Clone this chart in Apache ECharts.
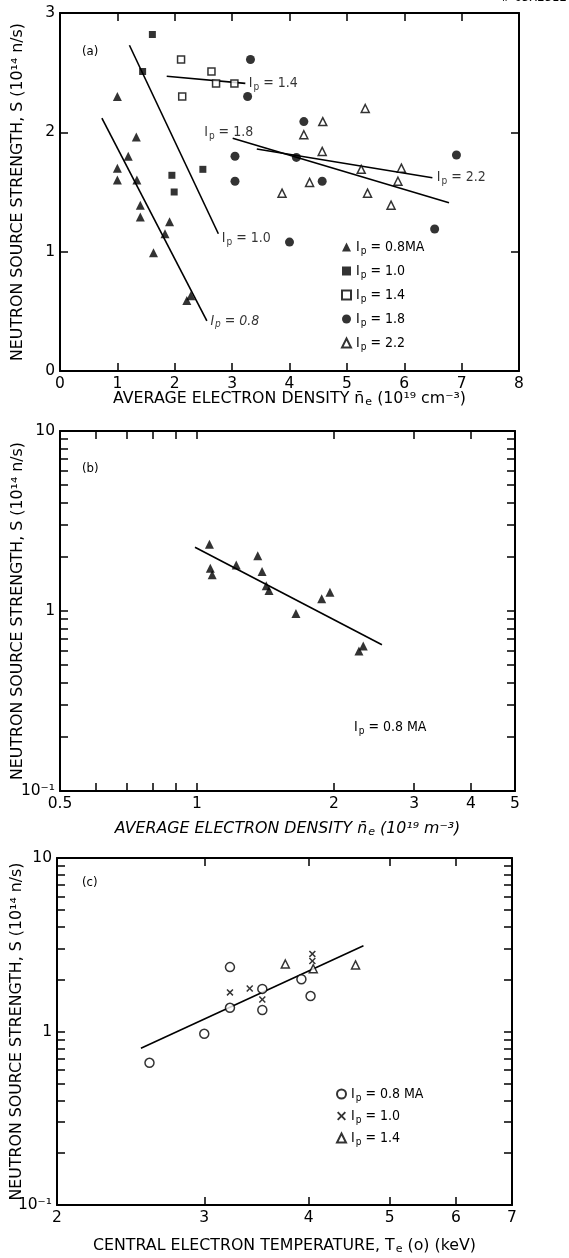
<!DOCTYPE html>
<html>
<head>
<meta charset="utf-8">
<script src="https://cdn.jsdelivr.net/npm/echarts@6/dist/echarts.min.js"></script>
<style>
  html, body { margin: 0; padding: 0; background: #fff; }
  #chart { width: 569px; height: 1258px; }
</style>
</head>
<body>
<div id="chart"></div>
<script>
// ---- (a) source strength vs. line-average density, by plasma current ----
const ip08_a = [[1.0, 2.3], [1.33, 1.96], [1.19, 1.8], [1.0, 1.7], [1.0, 1.6], [1.34, 1.6],
                [1.4, 1.39], [1.4, 1.29], [1.91, 1.25], [1.83, 1.15], [1.63, 0.99], [2.28, 0.63], [2.21, 0.59]];
const ip10_a = [[1.61, 2.82], [1.44, 2.51], [1.95, 1.64], [2.49, 1.69], [1.99, 1.5]];
const ip14_a = [[2.11, 2.61], [2.64, 2.51], [2.72, 2.41], [3.04, 2.41], [2.13, 2.3]];
const ip18_a = [[3.32, 2.61], [3.27, 2.3], [4.25, 2.09], [3.05, 1.8], [4.12, 1.79], [3.05, 1.59],
                [4.57, 1.59], [6.91, 1.81], [4.0, 1.08], [6.53, 1.19]];
const ip22_a = [[5.32, 2.2], [4.58, 2.09], [4.25, 1.98], [4.57, 1.84], [5.25, 1.69], [5.95, 1.7],
                [5.89, 1.59], [4.35, 1.58], [3.87, 1.49], [5.36, 1.49], [5.77, 1.39]];
const fit08_a = [[0.73, 2.12], [2.56, 0.42]];
const fit10_a = [[1.21, 2.73], [2.76, 1.15]];
const fit14_a = [[1.86, 2.47], [3.23, 2.41]];
const fit18_a = [[6.78, 1.41], [3.01, 1.95]];
const fit22_a = [[3.43, 1.86], [6.49, 1.62]];

// ---- (b) Ip = 0.8 MA on log-log axes ----
const ip08_b = [[1.065, 2.35], [1.07, 1.73], [1.08, 1.59], [1.22, 1.8], [1.36, 2.03], [1.39, 1.66],
                [1.42, 1.38], [1.44, 1.3], [1.65, 0.97], [1.88, 1.17], [1.96, 1.27], [2.27, 0.6], [2.32, 0.64]];
const fit_b = [[0.99, 2.26], [2.55, 0.65]];

// ---- (c) source strength vs. central electron temperature ----
const ip08_c = [[3.22, 2.35], [3.22, 1.37], [3.52, 1.76], [3.52, 1.33], [3.92, 2.0], [4.02, 1.6], [3.0, 0.97], [2.58, 0.66]];
const ip10_c = [[3.22, 1.68], [3.4, 1.77], [3.52, 1.53], [4.04, 2.8], [4.04, 2.55]];
const ip14_c = [[3.75, 2.45], [4.05, 2.3], [4.55, 2.42]];
const fit_c = [[2.52, 0.8], [4.65, 3.12]];

// ---- tick positions and labels ----
const ticksX_b = [0.5, 0.6, 0.7, 0.8, 0.9, 1, 2, 3, 4, 5];
const labelsX_b = [0.5, 1, 2, 3, 4, 5];
const ticksX_c = [3, 4, 5, 6];
const labelsX_c = [2, 3, 4, 5, 6, 7];
const ticksLogY = [0.2, 0.3, 0.4, 0.5, 0.6, 0.7, 0.8, 0.9, 1, 2, 3, 4, 5, 6, 7, 8, 9];
const labelsLogY = [0.1, 1, 10];

const INK = '#000';
const FONT = '"DejaVu Sans Condensed","DejaVu Sans",sans-serif';
const WIDE = '"DejaVu Sans",sans-serif';
const SUB = { fontSize: 10, padding: [8, 0, 0, 1], fontFamily: FONT, color: INK };
const TXT = { fontFamily: FONT, fontSize: 14, color: INK, rich: { s: SUB } };
const TITLE = { fontFamily: WIDE, fontSize: 15.8, color: INK,
                rich: { s: { fontSize: 11, padding: [8, 0, 0, 1], fontFamily: WIDE, color: INK } } };
const YTITLE = 'NEUTRON SOURCE STRENGTH, S (10¹⁴ n/s)';

const logYLabel = v => (v < 0.5 ? '10⁻¹' : (v < 5 ? '1' : '10'));
const plainLabel = v => String(+Number(v).toPrecision(3));

// one side of a plot frame
function edge(gridIndex, position, scale, tick, label, name) {
  const ax = Object.assign({
    gridIndex: gridIndex,
    position: position,
    axisLine: { show: true, onZero: false, lineStyle: { color: INK, width: 2 } },
    axisTick: Object.assign({ show: true, inside: true, length: 8, lineStyle: { color: INK, width: 1.5 } }, tick || {}),
    axisLabel: Object.assign({ show: !!label, color: INK, fontSize: 15.5, fontFamily: WIDE, margin: 5 }, label || {}),
    splitLine: { show: false },
    minorTick: { show: false },
    nameMoveOverlap: false
  }, scale);
  if (name) Object.assign(ax, name);
  return ax;
}

const scaleA_x = { type: 'value', min: 0, max: 8, interval: 1 };
const scaleA_y = { type: 'value', min: 0, max: 3, interval: 1 };
const scaleB_x = { type: 'log', logBase: 10, min: 0.5, max: 5 };
const scaleC_x = { type: 'log', logBase: 10, min: 2, max: 7 };
const scaleLogY = { type: 'log', logBase: 10, min: 0.1, max: 10 };

const xName = (text, gap, italic) => ({
  name: text, nameLocation: 'middle', nameGap: gap,
  nameTextStyle: Object.assign({}, TITLE, { fontStyle: italic ? 'italic' : 'normal' })
});
const yName = gap => ({
  name: YTITLE, nameLocation: 'middle', nameGap: gap, nameRotate: 90,
  nameTextStyle: Object.assign({}, TITLE)
});

const xAxes = [
  edge(0, 'bottom', scaleA_x, null, {}, xName('AVERAGE ELECTRON DENSITY n̄{s|e} (10¹⁹ cm⁻³)', 18)),
  edge(0, 'top', scaleA_x, null, null),
  edge(1, 'bottom', scaleB_x, { customValues: ticksX_b }, { customValues: labelsX_b, formatter: plainLabel },
       xName('AVERAGE ELECTRON DENSITY n̄{s|e} (10¹⁹ m⁻³)', 28, true)),
  edge(1, 'top', scaleB_x, { customValues: ticksX_b }, null),
  edge(2, 'bottom', scaleC_x, { customValues: ticksX_c }, { customValues: labelsX_c, formatter: plainLabel },
       xName('CENTRAL ELECTRON TEMPERATURE, T{s|e} (o) (keV)', 31)),
  edge(2, 'top', scaleC_x, { customValues: ticksX_c }, null)
];
const yAxes = [
  edge(0, 'left', scaleA_y, null, {}, yName(34)),
  edge(0, 'right', scaleA_y, null, null),
  edge(1, 'left', scaleLogY, { customValues: ticksLogY }, { customValues: labelsLogY, formatter: logYLabel }, yName(34)),
  edge(1, 'right', scaleLogY, { customValues: ticksLogY }, null),
  edge(2, 'left', scaleLogY, { customValues: ticksLogY }, { customValues: labelsLogY, formatter: logYLabel }, yName(32)),
  edge(2, 'right', scaleLogY, { customValues: ticksLogY }, null)
];

const CROSS = 'path://M0 1.5L1.5 0L5 3.5L8.5 0L10 1.5L6.5 5L10 8.5L8.5 10L5 6.5L1.5 10L0 8.5L3.5 5Z';

function marks(name, data, xi, yi, symbol, size, open) {
  return {
    type: 'scatter', name: name, data: data, xAxisIndex: xi, yAxisIndex: yi,
    symbol: symbol, symbolSize: size,
    itemStyle: open ? { color: '#fff', borderColor: INK, borderWidth: 1.5 } : { color: INK },
    emphasis: { disabled: true }, silent: true, z: 4
  };
}
function fit(data, xi, yi) {
  return {
    type: 'line', data: data, xAxisIndex: xi, yAxisIndex: yi, symbol: 'none',
    lineStyle: { color: INK, width: 1.6 }, silent: true, z: 3
  };
}
// text tag anchored on a fit-line end point
function tag(point, text, xi, yi, place) {
  return {
    type: 'scatter', data: [point], xAxisIndex: xi, yAxisIndex: yi,
    symbolSize: 1, itemStyle: { color: 'rgba(0,0,0,0)' }, silent: true, z: 5,
    label: Object.assign({ show: true, formatter: text }, TXT, place)
  };
}

const legendText = {
  'a08': 'I{s|p} = 0.8MA', 'a10': 'I{s|p} = 1.0', 'a14': 'I{s|p} = 1.4', 'a18': 'I{s|p} = 1.8', 'a22': 'I{s|p} = 2.2',
  'c08': 'I{s|p} = 0.8 MA', 'c10': 'I{s|p} = 1.0', 'c14': 'I{s|p} = 1.4'
};

const option = {
  animation: false,
  backgroundColor: '#fff',
  grid: [
    { left: 60, top: 13, width: 459, height: 358, outerBoundsMode: 'none', containLabel: false },
    { left: 60, top: 431, width: 455, height: 360, outerBoundsMode: 'none', containLabel: false },
    { left: 57, top: 858, width: 455, height: 347, outerBoundsMode: 'none', containLabel: false }
  ],
  xAxis: xAxes,
  yAxis: yAxes,
  legend: [
    { left: 336, top: 235, orient: 'vertical', itemGap: 8, itemWidth: 9, itemHeight: 9, selectedMode: false,
      data: ['a08', 'a10', 'a14', 'a18', 'a22'], formatter: n => legendText[n], textStyle: TXT },
    { left: 331, top: 1082, orient: 'vertical', itemGap: 6, itemWidth: 9, itemHeight: 9, selectedMode: false,
      data: ['c08', 'c10', 'c14'], formatter: n => legendText[n], textStyle: TXT }
  ],
  series: [
    fit(fit08_a, 0, 0), fit(fit10_a, 0, 0), fit(fit14_a, 0, 0), fit(fit18_a, 0, 0), fit(fit22_a, 0, 0),
    marks('a08', ip08_a, 0, 0, 'triangle', 9, false),
    marks('a10', ip10_a, 0, 0, 'rect', 7, false),
    marks('a14', ip14_a, 0, 0, 'rect', 7, true),
    marks('a18', ip18_a, 0, 0, 'circle', 9, false),
    marks('a22', ip22_a, 0, 0, 'triangle', 8, true),
    tag(fit08_a[1], 'I{s|p} = 0.8', 0, 0, { position: 'right', distance: 3, fontStyle: 'italic' }),
    tag(fit10_a[1], 'I{s|p} = 1.0', 0, 0, { position: 'right', distance: 3, offset: [0, 5] }),
    tag(fit14_a[1], 'I{s|p} = 1.4', 0, 0, { position: 'right', distance: 3 }),
    tag(fit18_a[1], 'I{s|p} = 1.8', 0, 0, { position: 'inside', offset: [-4, -6] }),
    tag(fit22_a[1], 'I{s|p} = 2.2', 0, 0, { position: 'right', distance: 4 }),

    fit(fit_b, 2, 2),
    marks('b08', ip08_b, 2, 2, 'triangle', 9, false),

    fit(fit_c, 4, 4),
    marks('c08', ip08_c, 4, 4, 'circle', 9, true),
    marks('c10', ip10_c, 4, 4, CROSS, 7, false),
    marks('c14', ip14_c, 4, 4, 'triangle', 8, true)
  ],
  graphic: [
    { type: 'text', left: 82, top: 45, style: Object.assign({ text: '(a)' }, TXT, { fontSize: 13 }) },
    { type: 'text', left: 82, top: 462, style: Object.assign({ text: '(b)' }, TXT, { fontSize: 13 }) },
    { type: 'text', left: 82, top: 876, style: Object.assign({ text: '(c)' }, TXT, { fontSize: 13 }) },
    { type: 'text', left: 354, top: 720, style: Object.assign({ text: 'I{s|p} = 0.8 MA' }, TXT) },
    { type: 'text', right: 2, top: -9, style: Object.assign({ text: '# 65X2512' }, TXT, { fontSize: 13 }) }
  ]
};

const chart = echarts.init(document.getElementById('chart'), null, { renderer: 'canvas', width: 569, height: 1258 });
chart.setOption(option);
</script>
</body>
</html>
